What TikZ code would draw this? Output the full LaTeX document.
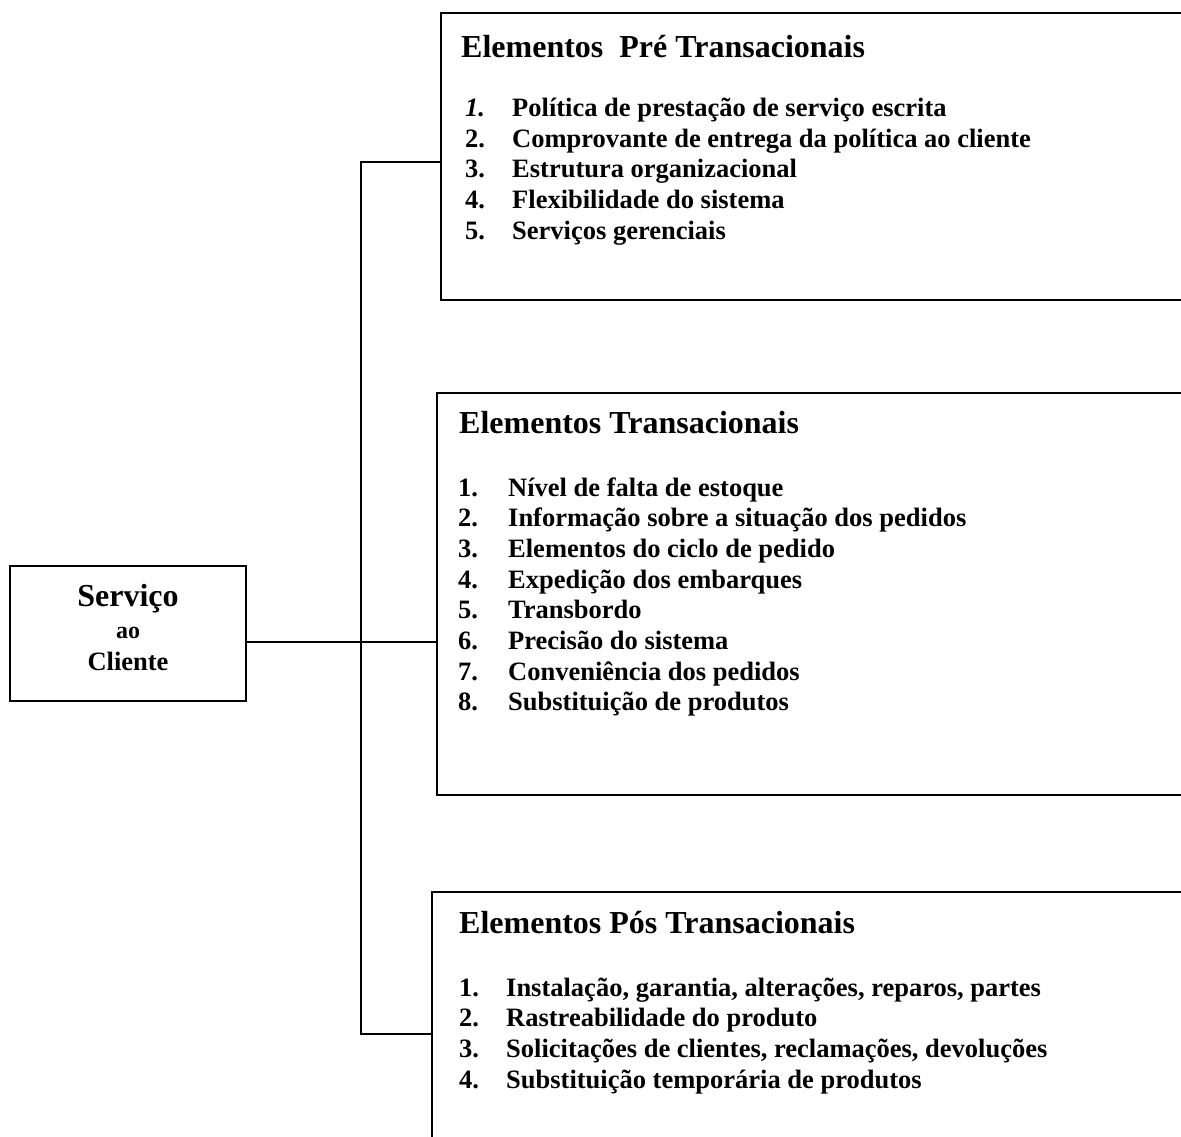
\documentclass[tikz,border=0pt]{standalone}
\usepackage{fontspec}
\setmainfont{Liberation Serif}
\begin{document}
\begin{tikzpicture}[x=1pt,y=1pt,
  frame/.style={draw,line width=1.6pt,inner sep=0pt,outer sep=0pt,anchor=north west},
  wire/.style={line width=1.6pt},
  ttl/.style={anchor=base west,inner sep=0pt,font=\fontsize{32}{36}\selectfont\bfseries},
  num/.style={anchor=base west,inner sep=0pt,font=\fontsize{26.5}{30}\selectfont\bfseries},
  itm/.style={anchor=base west,inner sep=0pt,font=\fontsize{26.5}{30}\selectfont\bfseries}]
\useasboundingbox (0,0) rectangle (1181,-1137);
\clip (0,0) rectangle (1181,-1137);

% left box
\node[frame,minimum width=236,minimum height=135] (svc) at (10,-566) {};
\node[anchor=base,inner sep=0pt,font=\fontsize{32}{36}\selectfont\bfseries] (svc1) at (128,-606) {Serviço};
\node[anchor=base,inner sep=0pt,font=\fontsize{24}{28}\selectfont\bfseries] (svc2) at (128,-638) {ao};
\node[anchor=base,inner sep=0pt,font=\fontsize{26.5}{30}\selectfont\bfseries] (svc3) at (128,-670) {Cliente};

% right boxes (running past the right edge)
\node[frame,minimum width=800,minimum height=287] (pre) at (441,-13) {};
\node[frame,minimum width=800,minimum height=402] (trans) at (437,-393) {};
\node[frame,minimum width=800,minimum height=320] (pos) at (432,-892) {};

% connectors
\coordinate (jtop) at (361,-162);
\coordinate (jmid) at (361,-642);
\coordinate (jbot) at (361,-1034);
\draw[wire] (jmid -| svc.east) -- (jmid -| trans.west);
\draw[wire] (jtop -| pre.west) -- (jtop) -- (jbot) -- (jbot -| pos.west);

% pre-transactional
\node[ttl] (t1) at (461,-58) {Elementos\ \ Pré Transacionais};
\foreach \n/\txt [count=\i] in {
  {\itshape 1}/{Política de prestação de serviço escrita},
  2/{Comprovante de entrega da política ao cliente},
  3/{Estrutura organizacional},
  4/{Flexibilidade do sistema},
  5/{Serviços gerenciais}} {
  \node[num] (pn\i) at (465,{-117-30.5*(\i-1)}) {\n.};
  \node[itm] (pi\i) at (512,{-117-30.5*(\i-1)}) {\txt};
}

% transactional
\node[ttl] (t2) at (459,-433) {Elementos Transacionais};
\foreach \n/\txt [count=\i] in {
  1/{Nível de falta de estoque},
  2/{Informação sobre a situação dos pedidos},
  3/{Elementos do ciclo de pedido},
  4/{Expedição dos embarques},
  5/{Transbordo},
  6/{Precisão do sistema},
  7/{Conveniência dos pedidos},
  8/{Substituição de produtos}} {
  \node[num] (tn\i) at (458,{-496-30.7*(\i-1)}) {\n.};
  \node[itm] (ti\i) at (508,{-496-30.7*(\i-1)}) {\txt};
}

% post-transactional
\node[ttl] (t3) at (459,-933) {Elementos Pós Transacionais};
\foreach \n/\txt [count=\i] in {
  1/{Instalação, garantia, alterações, reparos, partes},
  2/{Rastreabilidade do produto},
  3/{Solicitações de clientes, reclamações, devoluções},
  4/{Substituição temporária de produtos}} {
  \node[num] (sn\i) at (459,{-996-30.7*(\i-1)}) {\n.};
  \node[itm] (si\i) at (506,{-996-30.7*(\i-1)}) {\txt};
}
\end{tikzpicture}
\end{document}
